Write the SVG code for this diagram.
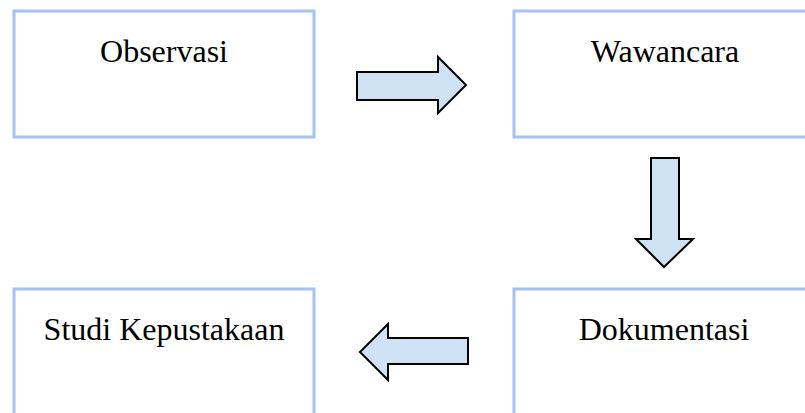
<svg xmlns="http://www.w3.org/2000/svg" width="805" height="413" viewBox="0 0 805 413">
<style>
.box{fill:#ffffff;stroke:#a4c2f4;stroke-width:3}
.lbl{font-family:"Liberation Serif","Times New Roman",serif;font-size:32px;fill:#000;text-anchor:middle}
.arr{fill:#cfe2f3;stroke:#000;stroke-width:2;stroke-linejoin:miter}
</style>
<rect width="805" height="413" fill="#ffffff"/>
<g id="observasi"><rect class="box" x="14" y="11" width="300" height="126"/><text class="lbl" x="164" y="62">Observasi</text></g>
<g id="wawancara"><rect class="box" x="514" y="11" width="305" height="126"/><text class="lbl" x="665" y="62">Wawancara</text></g>
<g id="studi"><rect class="box" x="14" y="289" width="300" height="140"/><text class="lbl" x="164" y="340">Studi Kepustakaan</text></g>
<g id="dokumentasi"><rect class="box" x="514" y="289" width="305" height="140"/><text class="lbl" x="664" y="340">Dokumentasi</text></g>
<g id="connectors">
<polygon class="arr" points="357,72 438,72 438,57 466,85 438,113 438,100 357,100"/>
<polygon class="arr" points="651,158 679,158 679,239 693,239 664,267 636,239 651,239"/>
<polygon class="arr" points="468,338 388,338 388,324 360,352 388,380 388,364 468,364"/>
</g>
</svg>
